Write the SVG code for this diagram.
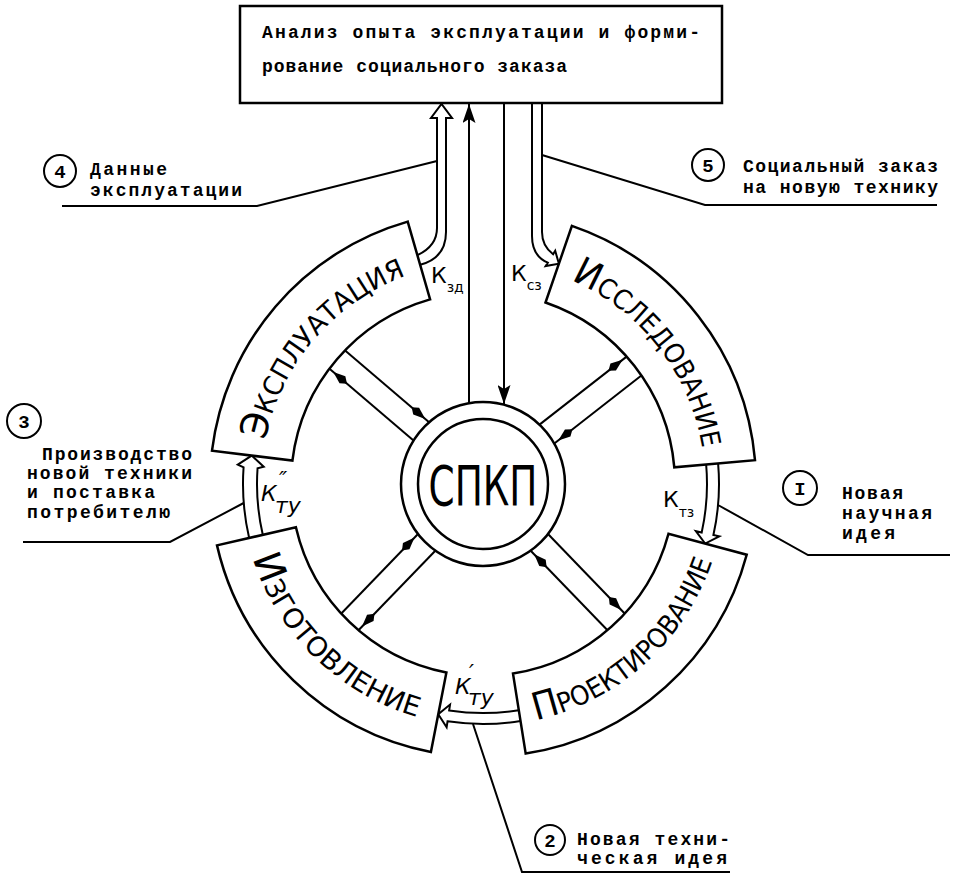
<svg xmlns="http://www.w3.org/2000/svg" width="955" height="878" viewBox="0 0 955 878">
<style>
.o{fill:#fff;stroke:#000;stroke-width:2.5}
.ln{fill:none;stroke:#000;stroke-width:2}
.sp{fill:none;stroke:#000;stroke-width:2;marker-end:url(#ah)}
.tw{font-family:"Liberation Mono","DejaVu Sans Mono",monospace;font-weight:bold;font-size:18px;fill:#000}
.seg{font-family:"DejaVu Sans","Liberation Sans",sans-serif;font-size:38px;font-variant:small-caps;fill:#000}
.k{font-family:"DejaVu Sans","Liberation Sans",sans-serif;font-size:22px;fill:#000}
.ki{font-style:italic}
.ks{font-size:14px}
.num{font-family:"Liberation Mono",monospace;font-weight:bold;font-size:19px;text-anchor:middle;fill:#000}
.cn{fill:#fff;stroke:#000;stroke-width:2}
</style>
<defs>
<marker id="ah" markerUnits="userSpaceOnUse" markerWidth="20" markerHeight="10" viewBox="0 0 20 10" refX="23" refY="5" orient="auto">
<path d="M0,5 L6,0.5 L18,5 L6,9.5 Z" fill="#000"/>
</marker>
<marker id="ahb" markerUnits="userSpaceOnUse" markerWidth="19" markerHeight="13" viewBox="0 0 19 13" refX="19" refY="6.5" orient="auto">
<path d="M0,0 L19,6.5 L0,13 L4,6.5 Z" fill="#000"/>
</marker>
<path id="tp-expl" d="M263.7,449.3 A222,222 0 0 1 414.4,272.9"/>
<path id="tp-issl" d="M562.6,276.8 A222,222 0 0 1 703.4,456.9"/>
<path id="tp-proekt" d="M529.2,721.6 A242,242 0 0 0 714.4,554.8"/>
<path id="tp-izgot" d="M249.3,546.6 A242,242 0 0 0 428.6,719.8"/>
</defs>
<rect width="955" height="878" fill="#fff"/>

<g id="connectors">
  <line class="sp" x1="345.1" y1="350.4" x2="429.1" y2="422.2"/>
  <line class="sp" x1="413.5" y1="440.4" x2="329.5" y2="368.7"/>
  <line class="sp" x1="641.4" y1="375.5" x2="554.3" y2="443.5"/>
  <line class="sp" x1="539.5" y1="424.6" x2="626.6" y2="356.6"/>
  <line class="sp" x1="607.5" y1="630.2" x2="530.7" y2="550.7"/>
  <line class="sp" x1="548.0" y1="534.0" x2="624.7" y2="613.5"/>
  <line class="sp" x1="341.3" y1="613.5" x2="418.0" y2="534.0"/>
  <line class="sp" x1="435.3" y1="550.7" x2="358.5" y2="630.2"/>
  <line class="ln" x1="469" y1="403" x2="469" y2="104" marker-end="url(#ahb)"/>
  <line class="ln" x1="504" y1="103" x2="504" y2="404" marker-end="url(#ahb)"/>
  <path class="ln" d="M417.4,255.2 Q437,246 437,228 L437,118 L431,118 L441.5,104 L452,118 L446,118 L446,232 Q446,258 420.2,264.8"/>
  <path class="ln" d="M532,103 L532,236 Q532,256 547.8,262.7 L545.6,266.1 L558.9,263.7 L555.2,250.8 L553.1,254.2 Q542,246 542,232 L542,103"/>
  <path class="ln" d="M706.15,464.48 A224,224 0 0 1 701.69,532.48 L695.83,531.18 L705.16,543.53 L719.26,536.38 L713.41,535.08 A236,236 0 0 0 718.10,463.43"/>
  <path class="ln" d="M518.82,710.18 A229,229 0 0 1 449.15,710.49 L450.04,704.55 L438.25,714.19 L446.64,727.30 L447.53,721.36 A240,240 0 0 0 520.54,721.05"/>
  <path class="ln" d="M262.79,534.84 A226,226 0 0 1 257.55,468.24 L263.7,466.7 L251.7,455.6 L237.8,464.7 L243.58,467.26 A240,240 0 0 0 249.15,537.99"/>
  <polyline class="ln" points="718,505 808,555 950,555"/>
  <polyline class="ln" points="473,724 522,872 730,872"/>
  <polyline class="ln" points="243.7,503 170,542 23,542"/>
  <polyline class="ln" points="437,161 257,206 62,206"/>
  <polyline class="ln" points="542,155 705,205 937,205"/>
  <text class="k" x="431" y="283">К<tspan class="ks" dy="9">зд</tspan></text>
  <text class="k" x="511" y="281">К<tspan class="ks" dy="9">сз</tspan></text>
  <text class="k" x="663" y="507">К<tspan class="ks" dy="10">тз</tspan></text>
  <text class="k ki" x="261" y="501">К</text>
  <text class="k ki" x="279" y="487" font-size="15">″</text>
  <text class="k ki" x="275" y="513" font-size="15">ту</text>
  <text class="k ki" x="455" y="694">К</text>
  <text class="k ki" x="469" y="680" font-size="15">′</text>
  <text class="k ki" x="468" y="705" font-size="15">ту</text>
</g>

<g id="box">
  <rect class="o" x="240" y="6" width="482" height="97"/>
  <text class="tw" x="262" y="38" textLength="438" lengthAdjust="spacing">Анализ опыта эксплуатации и форми-</text>
  <text class="tw" x="262" y="72" textLength="305" lengthAdjust="spacing">рование социального заказа</text>
</g>

<g id="spkp">
  <circle class="o" cx="483" cy="484" r="82"/>
  <circle class="o" cx="483" cy="484" r="65"/>
  <text x="483" y="505" text-anchor="middle" font-family="DejaVu Sans, Liberation Sans, sans-serif" font-size="56" textLength="109" lengthAdjust="spacingAndGlyphs">СПКП</text>
</g>

<g id="stage-expl">
  <path class="o" d="M212.0,450.7 A273,273 0 0 1 407.7,221.6 L430.1,299.4 A192,192 0 0 0 292.4,460.6 Z"/>
  <text class="seg"><textPath href="#tp-expl" startOffset="50%" text-anchor="middle" textLength="226" lengthAdjust="spacingAndGlyphs">Эксплуатация</textPath></text>
</g>
<g id="stage-issl">
  <path class="o" d="M571.9,225.9 A273,273 0 0 1 755.0,460.2 L674.3,467.3 A192,192 0 0 0 545.5,302.5 Z"/>
  <text class="seg"><textPath href="#tp-issl" startOffset="50%" text-anchor="middle" textLength="222" lengthAdjust="spacingAndGlyphs">Исследование</textPath></text>
</g>
<g id="stage-proekt">
  <path class="o" d="M746.7,554.7 A273,273 0 0 1 525.7,753.6 L513.0,673.6 A192,192 0 0 0 668.5,533.7 Z"/>
  <text class="seg"><textPath href="#tp-proekt" startOffset="50%" text-anchor="middle" textLength="248" lengthAdjust="spacingAndGlyphs">Проектирование</textPath></text>
</g>
<g id="stage-izgot">
  <path class="o" d="M430.9,752.0 A273,273 0 0 1 217.0,545.4 L295.9,527.2 A192,192 0 0 0 446.4,672.5 Z"/>
  <text class="seg"><textPath href="#tp-izgot" startOffset="50%" text-anchor="middle" textLength="238" lengthAdjust="spacingAndGlyphs">Изготовление</textPath></text>
</g>

<g id="note1">
  <circle class="cn" cx="800" cy="488" r="17"/>
  <text class="num" x="800" y="495">I</text>
  <text class="tw" x="842" y="499" textLength="61" lengthAdjust="spacing">Новая</text>
  <text class="tw" x="842" y="519" textLength="90" lengthAdjust="spacing">научная</text>
  <text class="tw" x="842" y="539" textLength="53" lengthAdjust="spacing">идея</text>
</g>
<g id="note2">
  <circle class="cn" cx="550" cy="840" r="15"/>
  <text class="num" x="550" y="847">2</text>
  <text class="tw" x="577" y="845" textLength="153" lengthAdjust="spacing">Новая техни-</text>
  <text class="tw" x="577" y="864" textLength="150" lengthAdjust="spacing">ческая идея</text>
</g>
<g id="note3">
  <circle class="cn" cx="24" cy="421" r="17"/>
  <text class="num" x="24" y="428">3</text>
  <text class="tw" x="42" y="460" textLength="150" lengthAdjust="spacing">Производство</text>
  <text class="tw" x="27" y="479" textLength="165" lengthAdjust="spacing">новой техники</text>
  <text class="tw" x="27" y="498" textLength="128" lengthAdjust="spacing">и поставка</text>
  <text class="tw" x="27" y="518" textLength="143" lengthAdjust="spacing">потребителю</text>
</g>
<g id="note4">
  <circle class="cn" cx="60" cy="171" r="16"/>
  <text class="num" x="60" y="178">4</text>
  <text class="tw" x="90" y="175" textLength="77" lengthAdjust="spacing">Данные</text>
  <text class="tw" x="90" y="196" textLength="152" lengthAdjust="spacing">эксплуатации</text>
</g>
<g id="note5">
  <circle class="cn" cx="708" cy="165" r="16"/>
  <text class="num" x="708" y="172">5</text>
  <text class="tw" x="743" y="172" textLength="195" lengthAdjust="spacing">Социальный заказ</text>
  <text class="tw" x="743" y="193" textLength="195" lengthAdjust="spacing">на новую технику</text>
</g>
</svg>
